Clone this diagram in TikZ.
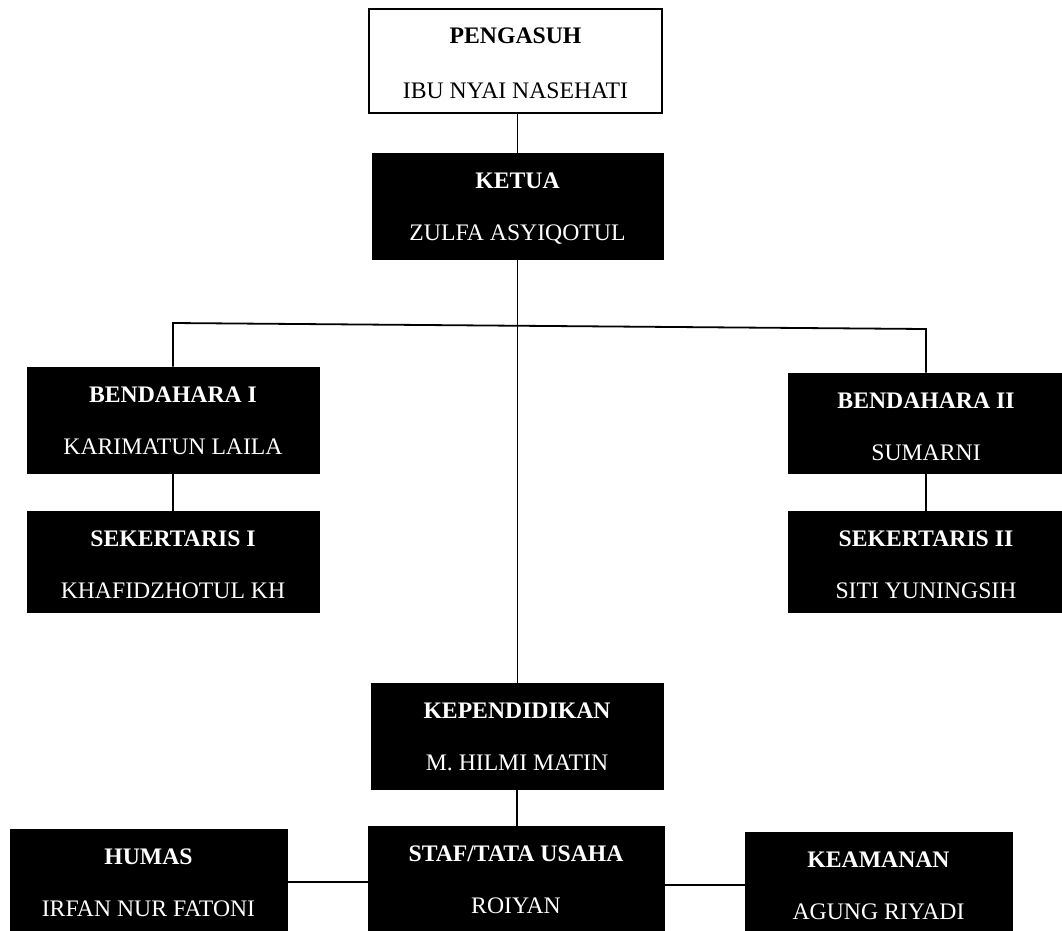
\documentclass[tikz,border=0pt]{standalone}
\usepackage{fontspec}
\setmainfont{Liberation Serif}
\begin{document}
\begin{tikzpicture}[x=1pt,y=-1pt,
  unitbox/.style={rectangle, fill=black, draw=black, line width=0.6pt, inner sep=0pt},
  headbox/.style={rectangle, fill=white, draw=black, line width=2pt, inner sep=0pt},
  titletext/.style={anchor=base, inner sep=0pt, text=white, font={\fontsize{23.7}{28}\selectfont\bfseries}},
  nametext/.style={anchor=base, inner sep=0pt, text=white, font={\fontsize{23.7}{28}\selectfont}},
  link/.style={draw=black, line width=1.8pt}]
\useasboundingbox (0,0) rectangle (1062,930);
\clip (0,0) rectangle (1062,930);
\fill[white] (0,0) rectangle (1062,930);

\newcommand{\orgunit}[7]{%
  \node[unitbox, minimum width=#4pt, minimum height=#5pt] (#1) at (#2,#3) {};
  \node[titletext] (#1t) at ([yshift=-36pt]#1.north) {#6};
  \node[nametext] (#1n) at ([yshift=-88pt]#1.north) {#7};
}

% head
\node[headbox, minimum width=293pt, minimum height=104pt] (peng) at (515.5,61) {};
\node[titletext, text=black] (pengt) at ([yshift=-35pt]peng.north) {PENGASUH};
\node[nametext, text=black] (pengn) at ([yshift=-90pt]peng.north) {IBU NYAI NASEHATI};

\orgunit{ketua}{517.5}{206}{291}{106}{KETUA}{ZULFA ASYIQOTUL}
\orgunit{bone}{173}{420}{292}{106}{BENDAHARA I}{KARIMATUN LAILA}
\orgunit{sone}{173}{561.5}{292}{101}{SEKERTARIS I}{KHAFIDZHOTUL KH}
\orgunit{btwo}{926}{423}{276}{100}{BENDAHARA II}{SUMARNI}
\orgunit{stwo}{926}{561.5}{276}{101}{SEKERTARIS II}{SITI YUNINGSIH}
\orgunit{kep}{517}{736}{292}{106}{KEPENDIDIKAN}{M. HILMI MATIN}
\orgunit{staf}{516}{879}{296}{106}{STAF/TATA USAHA}{ROIYAN}
\orgunit{humas}{148.5}{882}{277}{106}{HUMAS}{IRFAN NUR FATONI}
\orgunit{keam}{878.5}{885}{267}{106}{KEAMANAN}{AGUNG RIYADI}

% connectors
\coordinate (barL) at (173,323);
\coordinate (barR) at (926,329);
\draw[link] (ketua.north) -- (ketua.north |- peng.south);
\draw[link] (ketua.south) -- (ketua.south |- kep.north);
\draw[link] (bone.north) -- (barL) -- (barR) -- (btwo.north);
\draw[link] (bone.south) -- (sone.north);
\draw[link] (btwo.south) -- (stwo.north);
\draw[link] (kep.south) -- (kep.south |- staf.north);
\draw[link] (humas.east) -- (humas.east -| staf.west);
\draw[link] (keam.west) -- (keam.west -| staf.east);
\end{tikzpicture}
\end{document}
